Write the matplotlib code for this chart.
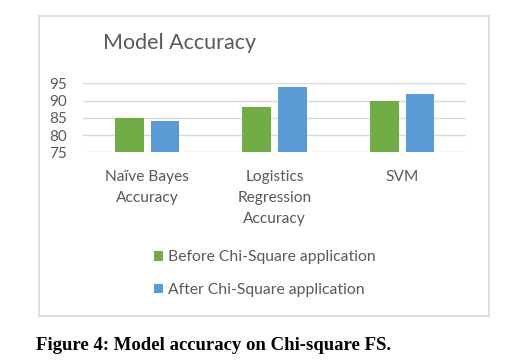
"""Grouped bar chart: model accuracy before/after Chi-Square feature selection."""

import matplotlib

matplotlib.use("Agg")
import matplotlib.pyplot as plt  # noqa: E402
import numpy as np  # noqa: E402
from matplotlib.patches import Rectangle  # noqa: E402

categories = ["Naïve Bayes\nAccuracy", "Logistics\nRegression\nAccuracy", "SVM"]
before_values = [85, 88, 90]
after_values = [84, 94, 92]
series_labels = ["Before Chi-Square application", "After Chi-Square application"]
y_ticks = [75, 80, 85, 90, 95]

GREEN = "#70AD47"
BLUE = "#5B9BD5"
GRID = "#D9D9D9"
TEXT = "#595959"

plt.rcParams["font.family"] = ["Lato", "DejaVu Sans"]

fig = plt.figure(figsize=(5.22, 3.6), dpi=100)
ax = fig.add_axes([0.1596, 0.5769, 0.7331, 0.1917])

x = np.arange(len(categories))
width = 0.225
offset = 0.14
bars_before = ax.bar(x - offset, before_values, width, color=GREEN, label=series_labels[0], zorder=3)
bars_after = ax.bar(x + offset, after_values, width, color=BLUE, label=series_labels[1], zorder=3)

ax.set_xlim(-0.5, len(categories) - 0.5)
ax.set_ylim(y_ticks[0], y_ticks[-1])
ax.set_yticks(y_ticks)
ax.set_xticks(x)
ax.set_xticklabels(categories, linespacing=1.65, fontsize=11.2, color=TEXT)
ax.tick_params(axis="y", length=0, pad=12, labelsize=11, labelcolor=TEXT)
ax.tick_params(axis="x", length=0, pad=12.5)
ax.grid(axis="y", color=GRID, linewidth=1, zorder=0)
for spine in ax.spines.values():
    spine.set_visible(False)

fig.text(0.197, 0.88, "Model Accuracy", fontsize=15.5, color=TEXT, va="center", ha="left")

fig.legend(
    handles=[bars_before, bars_after],
    labels=series_labels,
    loc="center left",
    bbox_to_anchor=(0.268, 0.24),
    frameon=False,
    fontsize=11.3,
    labelcolor=TEXT,
    handlelength=0.55,
    handleheight=0.55,
    handletextpad=0.35,
    labelspacing=1.18,
)

# chart area border
fig.patches.append(
    Rectangle(
        (38.5 / 522, 1 - 315.5 / 360),
        450 / 522,
        299.5 / 360,
        transform=fig.transFigure,
        fill=False,
        edgecolor=GRID,
        linewidth=1.2,
    )
)

fig.text(
    36 / 522,
    1 - 345 / 360,
    "Figure 4: Model accuracy on Chi-square FS.",
    fontsize=13.5,
    fontweight="bold",
    family=["Liberation Serif", "DejaVu Serif"],
    va="center",
    ha="left",
)

fig.savefig("out.png", dpi=100)
plt.close(fig)
